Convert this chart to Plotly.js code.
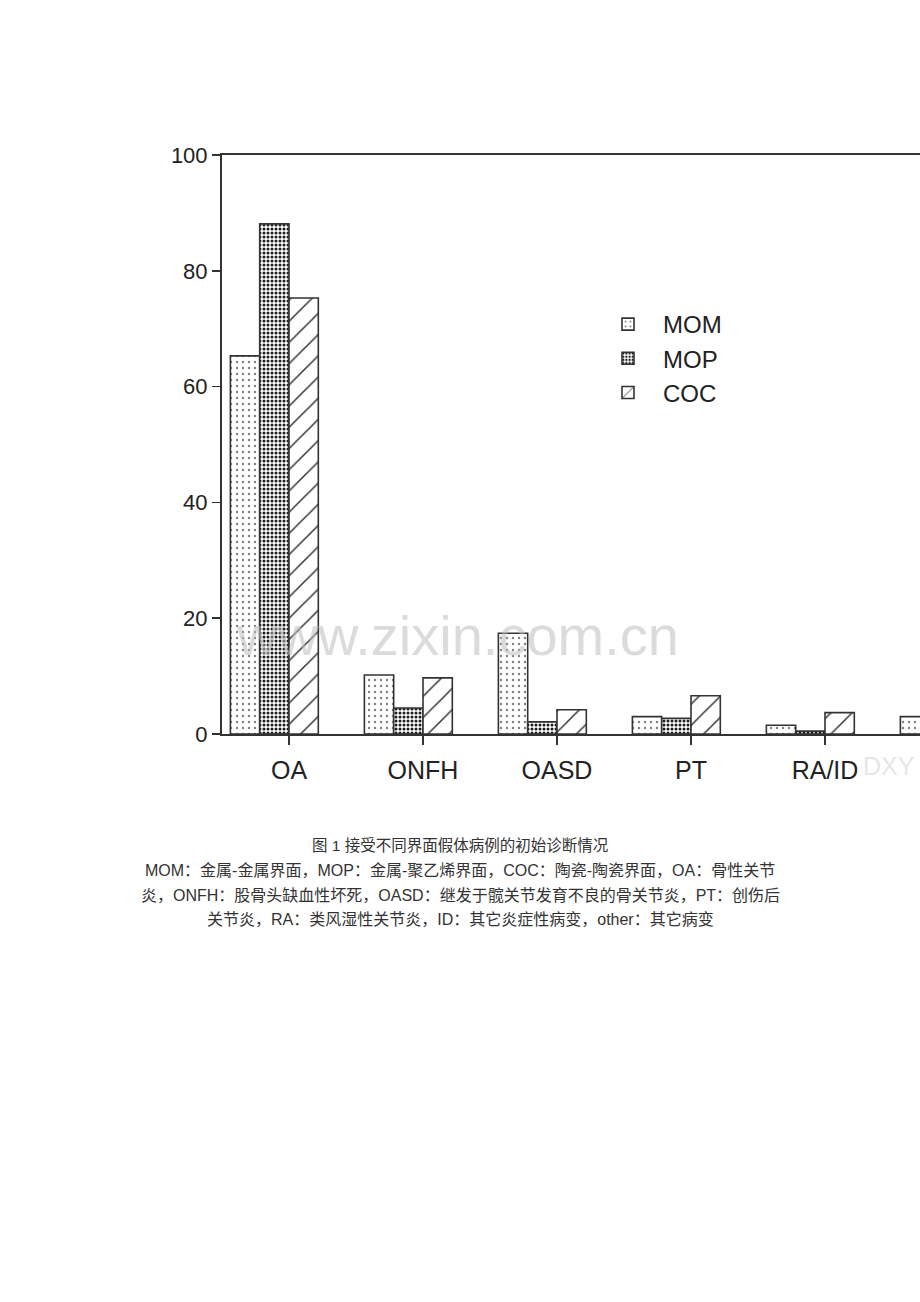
<!DOCTYPE html>
<html>
<head>
<meta charset="utf-8">
<script src="https://cdn.plot.ly/plotly-3.0.1.min.js"></script>
<style>
  body { margin: 0; background: #fff; overflow: hidden; }
  #diagnosis-chart { width: 920px; height: 1302px; }
</style>
</head>
<body>
<div id="diagnosis-chart"></div>
<script>
const categories = ['OA', 'ONFH', 'OASD', 'PT', 'RA/ID', 'other'];
const seriesNames = ['MOM', 'MOP', 'COC'];
// values (the "other" group is cut off on the right)
const momValues = [65.3, 10.2, 17.4, 3.0, 1.5, 3.0];
const mopValues = [88.1, 4.5, 2.1, 2.7, 0.5, null];
const cocValues = [75.3, 9.7, 4.2, 6.6, 3.7, null];
const yTicks = [0, 20, 40, 60, 80, 100];

const captionTitle = '图 1 接受不同界面假体病例的初始诊断情况';
const captionLines = [
    'MOM：金属-金属界面，MOP：金属-聚乙烯界面，COC：陶瓷-陶瓷界面，OA：骨性关节',
    '炎，ONFH：股骨头缺血性坏死，OASD：继发于髋关节发育不良的骨关节炎，PT：创伤后',
    '关节炎，RA：类风湿性关节炎，ID：其它炎症性病变，other：其它病变'
];

const FONT = '"Liberation Sans", Arial, "Noto Sans CJK SC", sans-serif';
const CJK_FONT = '"Liberation Sans", "Noto Sans CJK SC", sans-serif';

// plot area in page pixels, used to place the free text
const PLOT_L = 222, PLOT_R = 920, PLOT_T = 155, PLOT_B = 734;
const px = (x) => (x - PLOT_L) / (PLOT_R - PLOT_L);
const py = (y) => (PLOT_B - y) / (PLOT_B - PLOT_T);

const textAt = (text, x, y, font, extra) => Object.assign({
    text: text, xref: 'paper', yref: 'paper',
    x: px(x), y: py(y), xanchor: 'center', yanchor: 'middle',
    showarrow: false, font: font
}, extra || {});

const drawChart = () => {
    const barWidth = 0.21875;
    const patterns = [
        { shape: '.', size: 6, solidity: 0.12, fgcolor: '#808080', bgcolor: '#ffffff' },
        { shape: '.', size: 4, solidity: 0.45, fgcolor: '#1c1c1c', bgcolor: '#ffffff' },
        { shape: '/', size: 15, solidity: 0.1, fgcolor: '#333333', bgcolor: '#ffffff' }
    ];
    const values = [momValues, mopValues, cocValues];
    let data = seriesNames.map((name, i) => ({
        x: categories,
        y: values[i],
        name: name,
        type: 'bar',
        width: barWidth,
        offset: -2 * barWidth + i * barWidth,
        marker: {
            color: '#ffffff',
            line: { color: '#333333', width: 1.6 },
            pattern: patterns[i]
        }
    }));

    let annotations = [
        textAt('www.zixin.com.cn', 457, 635,
            { family: FONT, size: 56, color: 'rgba(190,190,190,0.55)' }),
        textAt('DXY', 861, 766,
            { family: FONT, size: 25, color: 'rgba(205,205,205,0.5)' }, { xanchor: 'left' }),
        textAt(captionTitle, 460, 845,
            { family: CJK_FONT, size: 15.5, color: '#333333' })
    ];
    const lineY = [870, 895, 919];
    captionLines.forEach((line, i) => {
        annotations.push(textAt(line, 460, lineY[i],
            { family: CJK_FONT, size: 16, color: '#333333' }));
    });

    let layout = {
        width: 920,
        height: 1302,
        margin: { l: PLOT_L, r: 0, t: PLOT_T, b: 1302 - PLOT_B, pad: 0 },
        paper_bgcolor: '#ffffff',
        plot_bgcolor: '#ffffff',
        barmode: 'overlay',
        showlegend: true,
        legend: {
            x: px(593), y: py(302), xanchor: 'left', yanchor: 'top',
            bgcolor: 'rgba(0,0,0,0)',
            itemwidth: 60,
            font: { family: FONT, size: 24, color: '#222222' }
        },
        xaxis: {
            type: 'category',
            range: [-0.5, -0.5 + (PLOT_R - PLOT_L) / 134],
            showline: true, linecolor: '#333333', linewidth: 2,
            mirror: true,
            ticks: 'outside', ticklen: 9, tickwidth: 1.5, tickcolor: '#333333',
            ticklabelstandoff: 4,
            showgrid: false, zeroline: false,
            tickfont: { family: FONT, size: 25, color: '#222222' }
        },
        yaxis: {
            range: [0, 100],
            tickvals: yTicks,
            showline: true, linecolor: '#333333', linewidth: 2,
            ticks: 'outside', ticklen: 8, tickwidth: 1.5, tickcolor: '#333333',
            showgrid: false, zeroline: false,
            tickfont: { family: FONT, size: 22, color: '#222222' }
        },
        annotations: annotations
    };
    Plotly.newPlot('diagnosis-chart', data, layout, { displayModeBar: false, staticPlot: true });
}

drawChart();
</script>
</body>
</html>
